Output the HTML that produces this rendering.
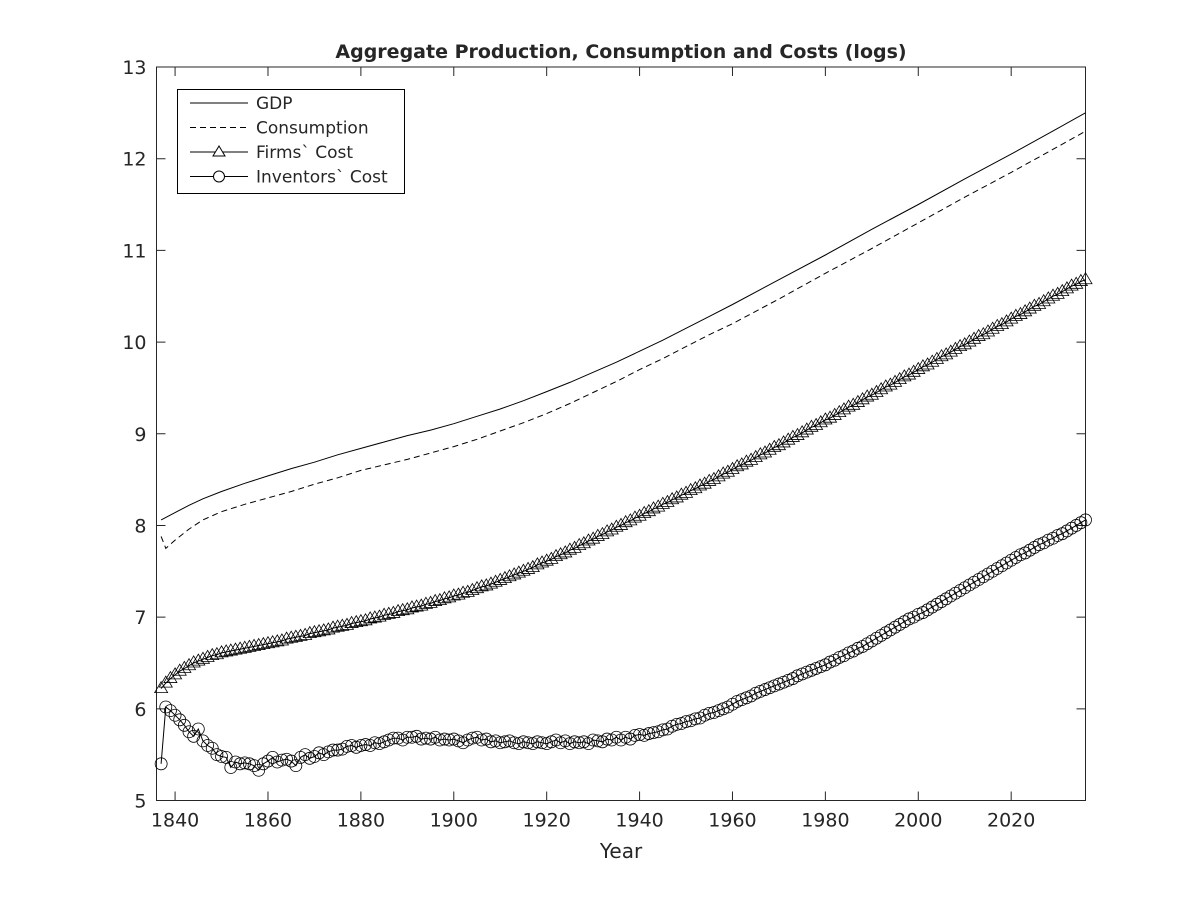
<!DOCTYPE html>
<html><head><meta charset="utf-8"><style>
html,body{margin:0;padding:0;background:#fff;width:1200px;height:900px;overflow:hidden}
text{font-family:"DejaVu Sans","Liberation Sans",sans-serif;fill:#262626}
</style></head><body>
<svg id="chart" width="1200" height="900" xmlns="http://www.w3.org/2000/svg">
<rect width="1200" height="900" fill="#fff"/>
<g id="plot"></g>
</svg>
<script>
const gdpYears=[1837,1840,1843,1846,1850,1855,1860,1865,1870,1875,1880,1885,1890,1895,1900,1905,1910,1915,1920,1925,1930,1935,1940,1945,1950,1955,1960,1970,1980,1990,2000,2010,2020,2030,2036];
const gdpVals=[8.06,8.14,8.22,8.29,8.37,8.46,8.54,8.62,8.69,8.77,8.84,8.91,8.98,9.04,9.11,9.19,9.27,9.36,9.46,9.56,9.67,9.78,9.9,10.02,10.15,10.28,10.41,10.68,10.95,11.23,11.5,11.78,12.05,12.33,12.5];
const consYears=[1837,1838,1840,1843,1846,1850,1855,1860,1865,1870,1875,1880,1885,1890,1895,1900,1905,1910,1915,1920,1925,1930,1935,1940,1945,1950,1955,1960,1970,1980,1990,2000,2010,2020,2030,2036];
const consVals=[7.88,7.75,7.84,7.96,8.06,8.15,8.23,8.3,8.37,8.45,8.52,8.6,8.66,8.72,8.79,8.86,8.94,9.03,9.12,9.22,9.33,9.45,9.57,9.7,9.82,9.95,10.08,10.2,10.47,10.75,11.02,11.3,11.58,11.85,12.13,12.3];
const startYear=1837;
const firmsVals=[6.22,6.28,6.33,6.37,6.41,6.44,6.47,6.50,6.52,6.54,6.56,6.58,6.59,6.61,6.62,6.63,6.64,6.65,6.66,6.67,6.68,6.69,6.70,6.71,6.72,6.73,6.74,6.76,6.77,6.78,6.79,6.80,6.82,6.83,6.84,6.85,6.86,6.88,6.89,6.90,6.91,6.93,6.94,6.95,6.96,6.98,6.99,7.00,7.02,7.03,7.04,7.06,7.07,7.08,7.10,7.11,7.12,7.14,7.15,7.17,7.18,7.20,7.21,7.23,7.24,7.26,7.27,7.29,7.31,7.33,7.34,7.36,7.38,7.40,7.42,7.44,7.46,7.48,7.50,7.52,7.54,7.57,7.59,7.61,7.63,7.66,7.68,7.70,7.73,7.75,7.78,7.80,7.83,7.85,7.88,7.90,7.93,7.95,7.98,8.00,8.03,8.05,8.08,8.10,8.13,8.15,8.18,8.20,8.23,8.25,8.28,8.30,8.33,8.35,8.38,8.40,8.43,8.45,8.48,8.50,8.53,8.56,8.58,8.61,8.64,8.66,8.69,8.71,8.74,8.77,8.79,8.82,8.85,8.87,8.90,8.93,8.96,8.98,9.01,9.04,9.07,9.09,9.12,9.15,9.17,9.20,9.23,9.26,9.29,9.31,9.34,9.37,9.40,9.42,9.45,9.48,9.51,9.53,9.56,9.59,9.62,9.64,9.67,9.70,9.73,9.75,9.78,9.81,9.84,9.86,9.89,9.92,9.95,9.97,10.00,10.03,10.06,10.08,10.11,10.14,10.17,10.19,10.22,10.25,10.28,10.30,10.33,10.36,10.39,10.41,10.44,10.47,10.50,10.52,10.55,10.58,10.61,10.63,10.66,10.68];
const invVals=[5.40,6.02,5.98,5.93,5.88,5.82,5.75,5.70,5.78,5.65,5.60,5.57,5.50,5.48,5.47,5.36,5.42,5.40,5.41,5.40,5.38,5.33,5.40,5.43,5.47,5.42,5.44,5.45,5.43,5.38,5.47,5.50,5.46,5.48,5.52,5.50,5.53,5.55,5.55,5.56,5.59,5.60,5.58,5.60,5.61,5.60,5.63,5.62,5.64,5.66,5.68,5.68,5.66,5.69,5.69,5.70,5.67,5.68,5.67,5.69,5.66,5.67,5.66,5.67,5.65,5.63,5.66,5.68,5.69,5.66,5.67,5.64,5.65,5.63,5.64,5.65,5.63,5.62,5.64,5.63,5.62,5.64,5.63,5.62,5.64,5.66,5.63,5.65,5.62,5.64,5.63,5.64,5.62,5.66,5.65,5.64,5.67,5.66,5.69,5.66,5.69,5.67,5.71,5.72,5.71,5.73,5.74,5.75,5.77,5.78,5.81,5.83,5.84,5.86,5.87,5.89,5.90,5.93,5.95,5.96,5.98,6.00,6.02,6.05,6.08,6.10,6.12,6.14,6.17,6.19,6.21,6.23,6.25,6.27,6.29,6.31,6.33,6.36,6.38,6.40,6.42,6.44,6.46,6.48,6.51,6.53,6.56,6.58,6.61,6.63,6.66,6.68,6.71,6.74,6.77,6.80,6.83,6.86,6.89,6.92,6.95,6.98,7.00,7.03,7.05,7.08,7.11,7.14,7.17,7.20,7.23,7.26,7.29,7.32,7.35,7.38,7.41,7.44,7.47,7.50,7.53,7.56,7.59,7.62,7.65,7.68,7.70,7.73,7.76,7.79,7.81,7.84,7.86,7.89,7.91,7.94,7.97,8.00,8.03,8.06];
const xTicks=[1840,1860,1880,1900,1920,1940,1960,1980,2000,2020];
const yTicks=[5,6,7,8,9,10,11,12,13];

const L=156.5,R=1085.5,T=67,B=800.5,X0=1836,X1=2036,Y0=5,Y1=13;
const xs=v=>L+(v-X0)/(X1-X0)*(R-L);
const ys=v=>B-(v-Y0)/(Y1-Y0)*(B-T);
const NS='http://www.w3.org/2000/svg';
const g=document.getElementById('plot');
function mk(tag,attrs,parent){const e=document.createElementNS(NS,tag);for(const k in attrs)e.setAttribute(k,attrs[k]);(parent||g).appendChild(e);return e;}

const box=mk('rect',{x:L,y:T,width:R-L,height:B-T,fill:'none',stroke:'#262626','stroke-width':1});


xTicks.forEach(t=>{
  const x=xs(t);
  const tk=mk('path',{d:`M${x},${B}V${B-9}M${x},${T}V${T+9}`,stroke:'#262626','stroke-width':1});
  
  
  const lb=mk('text',{x:x,y:B+26,'text-anchor':'middle','font-size':19});
  lb.textContent=t;
  
  
});
yTicks.forEach(t=>{
  const y=ys(t);
  const tk=mk('path',{d:`M${L},${y}H${L+9}M${R},${y}H${R-9}`,stroke:'#262626','stroke-width':1});
  
  
  const lb=mk('text',{x:L-10,y:y+7,'text-anchor':'end','font-size':19});
  lb.textContent=t;
  
  
});
const title=mk('text',{x:621,y:58,'text-anchor':'middle','font-size':19,'font-weight':'bold',fill:'#000'});
title.textContent='Aggregate Production, Consumption and Costs (logs)';


const xt=mk('text',{x:621,y:858,'text-anchor':'middle','font-size':20});
xt.textContent='Year';



function linePath(xv,yv){return xv.map((x,i)=>(i?'L':'M')+xs(x).toFixed(1)+','+ys(yv[i]).toFixed(1)).join('');}
const gdp=mk('path',{d:linePath(gdpYears,gdpVals),fill:'none',stroke:'#000','stroke-width':1});


const cons=mk('path',{d:linePath(consYears,consVals),fill:'none',stroke:'#000','stroke-width':1,'stroke-dasharray':'6,4'});



const firmYears=firmsVals.map((_,i)=>startYear+i);
const invYears=invVals.map((_,i)=>startYear+i);
const fl=mk('path',{d:linePath(firmYears,firmsVals),fill:'none',stroke:'#000','stroke-width':1});


const fg=mk('g',{});


firmsVals.forEach((v,i)=>{
  const x=xs(firmYears[i]),y=ys(v);
  const m=mk('path',{d:`M${x},${y-7}L${x+6.5},${y+4}L${x-6.5},${y+4}Z`,fill:'none',stroke:'#000','stroke-width':0.8},fg);
  
  
});
const il=mk('path',{d:linePath(invYears,invVals),fill:'none',stroke:'#000','stroke-width':1});


const ig=mk('g',{});


invVals.forEach((v,i)=>{
  const m=mk('circle',{cx:xs(invYears[i]),cy:ys(v),r:6,fill:'none',stroke:'#000','stroke-width':0.8},ig);
  
  
});

const lg=mk('g',{});


mk('rect',{x:177.5,y:89.5,width:227,height:104,fill:'#fff',stroke:'#000','stroke-width':1},lg);
const items=[['GDP','solid'],['Consumption','dash'],['Firms` Cost','tri'],['Inventors` Cost','circ']];
items.forEach((it,i)=>{
  const y=103+i*24.5;
  const e=mk('g',{},lg);
  
  
  mk('path',{d:`M190,${y}H248`,stroke:'#000','stroke-width':1,'stroke-dasharray':it[1]==='dash'?'6,4':'none'},e);
  if(it[1]==='tri')mk('path',{d:`M219,${y-6}L225,${y+4}L213,${y+4}Z`,fill:'#fff',stroke:'#000','stroke-width':1},e);
  if(it[1]==='circ')mk('circle',{cx:219,cy:y,r:5.5,fill:'#fff',stroke:'#000','stroke-width':1},e);
  const t=mk('text',{x:256,y:y+6,'font-size':17,fill:'#000'},e);
  t.textContent=it[0];
});
</script>
</body></html>
